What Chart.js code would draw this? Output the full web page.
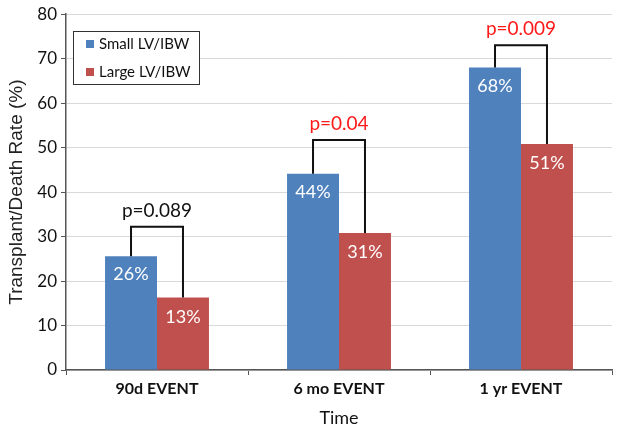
<!DOCTYPE html>
<html>
<head>
<meta charset="utf-8">
<script src="https://cdn.jsdelivr.net/npm/chart.js@4/dist/chart.umd.min.js"></script>
<style>
  html, body { margin: 0; padding: 0; background: #fff; }
  #wrap { width: 621px; height: 432px; }
</style>
</head>
<body>
<div id="wrap"><canvas id="chart" width="621" height="432"></canvas></div>
<script>
  // data
  const categories = ['90d EVENT', '6 mo EVENT', '1 yr EVENT'];
  const smallValues = [25.6, 44.1, 68];
  const largeValues = [16.3, 30.8, 50.8];
  const smallLabels = ['26%', '44%', '68%'];
  const largeLabels = ['13%', '31%', '51%'];
  const bracketTops = [32.2, 51.7, 73];
  const pLabels = ['p=0.089', 'p=0.04', 'p=0.009'];
  const pColors = ['#111111', '#ff1a1a', '#ff1a1a'];

  const FONT = 'Lato, "Open Sans", sans-serif';

  // values, brackets and p-values drawn on top of the bars
  const annotations = {
    id: 'annotations',
    afterDatasetsDraw(chart) {
      const ctx = chart.ctx;
      const y = chart.scales.y;
      const metaS = chart.getDatasetMeta(0);
      const metaL = chart.getDatasetMeta(1);
      ctx.save();
      categories.forEach((c, i) => {
        const bs = metaS.data[i], bl = metaL.data[i];
        // value labels
        ctx.fillStyle = '#ffffff';
        ctx.font = '18px ' + FONT;
        ctx.textAlign = 'center';
        ctx.textBaseline = 'alphabetic';
        ctx.fillText(smallLabels[i], bs.x, bs.y + 24);
        ctx.fillText(largeLabels[i], bl.x, bl.y + 25);
        // bracket
        const top = y.getPixelForValue(bracketTops[i]);
        ctx.strokeStyle = '#111';
        ctx.lineWidth = 2;
        ctx.beginPath();
        ctx.moveTo(bs.x, bs.y);
        ctx.lineTo(bs.x, top);
        ctx.lineTo(bl.x, top);
        ctx.lineTo(bl.x, bl.y);
        ctx.stroke();
        // p-value
        ctx.fillStyle = pColors[i];
        ctx.font = '19px ' + FONT;
        ctx.fillText(pLabels[i], (bs.x + bl.x) / 2, top - 10);
      });
      ctx.restore();
    },
    afterDraw(chart) {
      // legend box inside the plot area
      const ctx = chart.ctx;
      ctx.save();
      ctx.fillStyle = '#fff';
      ctx.fillRect(73, 31, 126, 53);
      ctx.strokeStyle = '#333';
      ctx.lineWidth = 1;
      ctx.strokeRect(73.5, 31.5, 126, 53);
      ctx.font = '15px ' + FONT;
      ctx.textAlign = 'left';
      ctx.textBaseline = 'middle';
      chart.data.datasets.forEach((ds, i) => {
        const cy = 44 + i * 28;
        ctx.fillStyle = ds.backgroundColor;
        ctx.fillRect(86, cy - 4, 8, 8);
        ctx.fillStyle = '#111';
        ctx.fillText(ds.label, 99, cy);
      });
      ctx.restore();
    }
  };

  new Chart(document.getElementById('chart'), {
    type: 'bar',
    data: {
      labels: categories,
      datasets: [
        { label: 'Small LV/IBW', data: smallValues, backgroundColor: '#4f81bd' },
        { label: 'Large LV/IBW', data: largeValues, backgroundColor: '#c0504d' }
      ]
    },
    options: {
      responsive: false,
      animation: false,
      layout: { padding: { top: 13, right: 9, left: 0, bottom: 0 } },
      datasets: { bar: { categoryPercentage: 0.571, barPercentage: 1 } },
      plugins: { legend: { display: false }, tooltip: { enabled: false } },
      scales: {
        x: {
          afterFit(scale) { scale.height = 62; },
          grid: { drawOnChartArea: false, tickLength: 5, tickColor: '#555', offset: true },
          border: { color: '#555', width: 1.5 },
          ticks: { color: '#111', font: { family: FONT, size: 16, weight: 'bold' }, padding: 4 },
          title: { display: true, text: 'Time', color: '#111', font: { family: FONT, size: 18 }, padding: { top: 0, bottom: 3 } }
        },
        y: {
          min: 0, max: 80,
          afterFit(scale) { scale.width = 66; },
          grid: { color: '#d9d9d9', tickLength: 5, tickColor: '#555' },
          border: { color: '#555', width: 1.5 },
          ticks: { stepSize: 10, color: '#111', font: { family: FONT, size: 17 }, padding: 4 },
          title: { display: true, text: 'Transplant/Death Rate (%)', color: '#222', font: { family: '"Liberation Sans", Arial, sans-serif', size: 19 }, padding: { top: 5, bottom: 0 } }
        }
      }
    },
    plugins: [annotations]
  });
</script>
</body>
</html>
